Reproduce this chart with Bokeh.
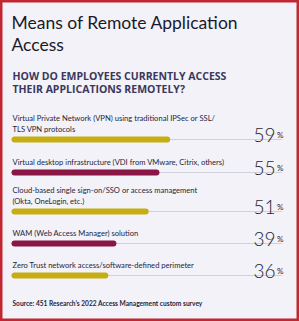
from bokeh.plotting import figure
from bokeh.models import Range1d, ColumnDataSource
from bokeh.core.properties import value
from bokeh.embed import file_html
from bokeh.resources import INLINE

# ---- data ----
title_lines = ["Means of Remote Application", "Access"]
subtitle_lines = ["HOW DO EMPLOYEES CURRENTLY ACCESS", "THEIR APPLICATIONS REMOTELY?"]
categories = [
    "Virtual Private Network (VPN) using traditional IPSec or SSL/\nTLS VPN protocols",
    "Virtual desktop infrastructure (VDI from VMware, Citrix, others)",
    "Cloud-based single sign-on/SSO or access management\n(Okta, OneLogin, etc.)",
    "WAM (Web Access Manager) solution",
    "Zero Trust network access/software-defined perimeter",
]
values = [59, 55, 51, 39, 36]
source_note = "Source: 451 Research\u2019s 2022 Access Management custom survey"

# ---- layout / style ----
W, H = 299, 321
X0, SCALE = 11.0, 2.69          # pixel of 0 %, pixels per percent
bar_y = [139, 172, 211, 243, 275]
bar_colors = ["#c6ae12", "#8a1646", "#c6ae12", "#8a1646", "#c6ae12"]
BG = "#f2f2f8"
RED = "#c22630"
TXT = "#26263a"
SUB = "#3a385c"

def px(xpix):
    return (xpix - X0) / SCALE

p = figure(width=W, height=H, output_backend="svg", toolbar_location=None,
           x_range=Range1d(px(0), px(W)), y_range=Range1d(H, 0),
           min_border=0, min_border_left=0, min_border_right=0,
           min_border_top=0, min_border_bottom=0)
p.axis.visible = False
p.grid.visible = False
p.background_fill_color = BG
p.border_fill_color = BG
p.outline_line_color = RED
p.outline_line_width = 4

# title
p.text(x=[px(11)] * 2, y=[22, 44], text=title_lines,
       text_font_size="17.5px", text_color="#1a1a2a", text_font=value("Lato"),
       text_baseline="middle", text_align="left")
# subtitle
p.text(x=[px(12)] * 2, y=[75.5, 88.5], text=subtitle_lines,
       text_font_size="10.5px", text_color=SUB, text_font=value("Open Sans"),
       text_font_style="bold", text_baseline="middle", text_align="left")

# tracks
p.segment(x0=[0] * len(values), x1=[100.5] * len(values), y0=bar_y, y1=bar_y,
          line_color="#cfd0da", line_width=1)
# bars
src = ColumnDataSource(dict(
    x0=[px(X0 + 3)] * len(values),
    x1=[v - 3 / SCALE for v in values],
    y=bar_y, c=bar_colors))
p.segment(x0="x0", x1="x1", y0="y", y1="y", line_color="c", line_width=6,
          line_cap="round", source=src)

# category labels
lx, ly, lt = [], [], []
for cat, by in zip(categories, bar_y):
    lines = cat.split("\n")
    n = len(lines)
    for i, ln in enumerate(lines):
        lx.append(px(12))
        ly.append(by - 10.5 - (n - 1 - i) * 11.5)
        lt.append(ln)
p.text(x=lx, y=ly, text=lt, text_font_size="7.6px", text_color=TXT,
       text_font=value("Lato"), text_baseline="middle", text_align="left")

# percentages
p.text(x=[px(275)] * len(values), y=[by - 5 for by in bar_y],
       text=[str(v) for v in values], text_font_size="19px", text_color="#1e1e2e",
       text_font=value("Lato Light"), text_baseline="alphabetic", text_align="right")
p.text(x=[px(283)] * len(values), y=[by - 5 for by in bar_y],
       text=["%"] * len(values), text_font_size="8px", text_color="#1e1e2e",
       text_font=value("Lato"), text_baseline="alphabetic", text_align="right")

# source
p.text(x=[px(12)], y=[302], text=[source_note], text_font_size="6.6px",
       text_color=TXT, text_font=value("Lato"), text_font_style="bold",
       text_baseline="middle", text_align="left")

open("out.html", "w").write(file_html(p, INLINE))
